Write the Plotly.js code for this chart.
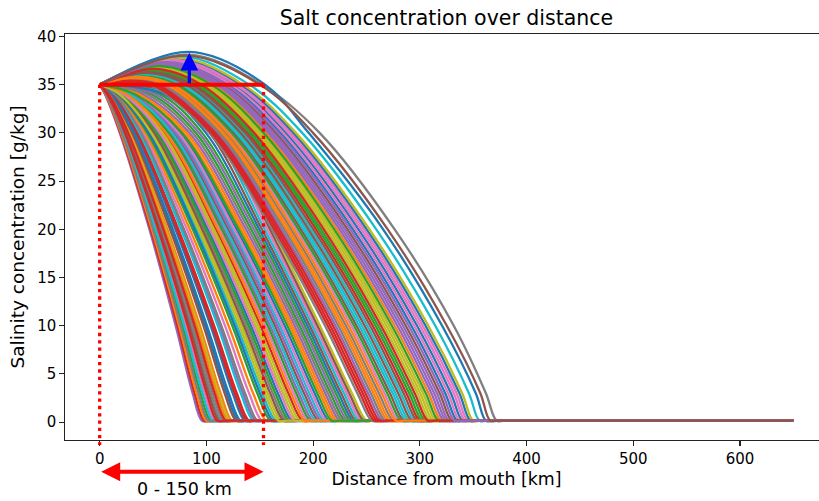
<!DOCTYPE html>
<html><head><meta charset="utf-8">
<script src="https://cdn.plot.ly/plotly-3.0.1.min.js"></script>
<style>html,body{margin:0;padding:0;overflow:hidden;background:#fff}#wrap{width:819px;height:501px;overflow:hidden}#chart{width:833px;height:501px}</style>
</head><body><div id="wrap"><div id="chart"></div></div>
<script>
// ---------------- data ----------------
const mouthSalinity = 35;                    // g/kg at the mouth (x = 0)
const plainLevels = [34, 30, 20, 10, 3, 0.15, 0.15]; // levels crossed by curves without overshoot
const humpLevels = [30, 20, 10, 3, 0.15, 0.15];      // levels crossed after the overshoot
const tailDistance = 650;                    // km, end of every curve
const tailSalinity = 0.15;                   // fresh-water floor
// curves without overshoot: distance [km] where salinity crosses 34, 30, 20, 10, 3, reaches floor, settles
const plainCurves = [
  [21.7, 54.9, 101.4, 141.8, 167.0, 180, 188],
  [9.3, 28.8, 63.4, 93.9, 113.3, 124, 132],
  [56.0, 96.0, 147.0, 192.1, 221.3, 235, 243],
  [12.3, 35.4, 73.7, 107.2, 128.5, 140, 148],
  [5.0, 18.8, 46.6, 71.2, 87.1, 96, 104],
  [28.9, 69.2, 120.3, 164.2, 191.5, 205, 213],
  [14.8, 40.8, 81.7, 117.4, 140.0, 152, 160],
  [7.6, 25.0, 57.2, 85.7, 103.9, 114, 122],
  [80.0, 117.0, 162.0, 206.4, 236.4, 250, 258],
  [17.9, 47.1, 90.7, 128.6, 152.5, 165, 173],
  [10.4, 31.2, 67.2, 98.9, 119.0, 130, 138],
  [33.7, 78.5, 132.2, 178.1, 206.4, 220, 228],
  [6.1, 21.5, 51.2, 77.6, 94.5, 104, 112],
  [24.4, 60.4, 108.8, 150.7, 176.8, 190, 198],
  [13.5, 38.1, 77.6, 112.3, 134.2, 146, 154],
  [64.0, 103.0, 152.0, 196.9, 226.3, 240, 248],
  [6.7, 22.9, 53.6, 80.8, 98.3, 108, 116],
  [20.4, 52.2, 97.8, 137.4, 162.2, 175, 183],
  [8.9, 28.0, 62.1, 92.2, 111.4, 122, 130],
  [30.4, 72.2, 124.2, 168.8, 196.5, 210, 218],
  [11.5, 33.7, 71.0, 103.9, 124.7, 136, 144],
  [15.7, 42.7, 84.4, 120.8, 143.8, 156, 164],
  [48.0, 90.0, 142.0, 187.4, 216.3, 230, 238],
  [5.3, 19.5, 47.7, 72.8, 88.9, 98, 106],
  [27.4, 66.2, 116.4, 159.7, 186.6, 200, 208],
  [10.0, 30.4, 65.9, 97.2, 117.1, 128, 136],
  [72.0, 110.0, 157.0, 201.6, 231.4, 245, 253],
  [7.9, 25.8, 58.4, 87.3, 105.8, 116, 124],
  [23.0, 57.6, 105.1, 146.2, 171.9, 185, 193],
  [13.1, 37.2, 76.3, 110.6, 132.3, 144, 152],
  [32.0, 75.3, 128.2, 173.4, 201.4, 215, 223],
  [5.5, 20.1, 48.9, 74.4, 90.8, 100, 108],
  [16.7, 44.6, 87.2, 124.3, 147.7, 160, 168],
  [11.9, 34.6, 72.4, 105.5, 126.6, 138, 146],
  [40.0, 84.0, 137.0, 182.7, 211.3, 225, 233],
  [7.3, 24.3, 56.0, 84.1, 102.0, 112, 120],
  [25.9, 63.3, 112.6, 155.2, 181.7, 195, 203],
  [14.0, 39.0, 79.0, 114.0, 136.2, 148, 156],
  [19.1, 49.6, 94.2, 133.0, 157.3, 170, 178],
  [6.4, 22.2, 52.4, 79.2, 96.4, 106, 114],
  [10.7, 32.0, 68.5, 100.5, 120.9, 132, 140],
  [8.6, 27.3, 60.9, 90.6, 109.6, 120, 128],
  [26.7, 64.8, 114.5, 157.5, 184.2, 197.5, 205.5],
  [8.3, 26.6, 59.7, 89.0, 107.7, 118, 126],
  [52.0, 93.0, 144.5, 189.8, 218.8, 232.5, 240.5],
  [19.8, 50.9, 96.0, 135.2, 159.8, 172.5, 180.5],
  [31.2, 73.8, 126.2, 171.1, 199.0, 212.5, 220.5],
  [5.8, 20.8, 50.1, 76.0, 92.7, 102, 110],
  [23.7, 59.0, 107.0, 148.5, 174.4, 187.5, 195.5],
  [68.0, 106.5, 154.5, 199.3, 228.9, 242.5, 250.5],
  [17.3, 45.9, 89.0, 126.5, 150.1, 162.5, 170.5],
  [36.9, 81.3, 134.6, 180.4, 208.9, 222.5, 230.5],
  [21.1, 53.6, 99.6, 139.6, 164.6, 177.5, 185.5],
  [7.0, 23.6, 54.8, 82.5, 100.2, 110, 118],
  [29.7, 70.7, 122.3, 166.5, 194.0, 207.5, 215.5],
  [76.0, 113.5, 159.5, 204.0, 233.9, 247.5, 255.5],
  [22.4, 56.3, 103.3, 144.0, 169.5, 182.5, 190.5],
  [44.0, 87.0, 139.5, 185.1, 213.8, 227.5, 235.5],
  [18.5, 48.4, 92.5, 130.8, 154.9, 167.5, 175.5],
  [28.2, 67.7, 118.4, 162.0, 189.1, 202.5, 210.5],
  [60.0, 99.5, 149.5, 194.5, 223.8, 237.5, 245.5],
  [25.2, 61.9, 110.7, 153.0, 179.3, 192.5, 200.5],
  [32.9, 76.9, 130.2, 175.8, 203.9, 217.5, 225.5]
];
// curves with overshoot: [peak distance, peak salinity, distance back at 35,
//   then distances where salinity crosses 30, 20, 10, 3, reaches floor, settles]
const humpCurves = [
  [47.7, 36.43, 88.3, 138.2, 202.7, 255.9, 287.4, 300, 308],
  [30.2, 35.47, 55.9, 110.0, 170.4, 221.0, 251.5, 265, 273],
  [62.7, 37.25, 116.1, 164.8, 232.2, 286.8, 318.6, 330, 338],
  [37.7, 35.88, 69.8, 121.7, 184.0, 235.8, 266.8, 280, 288],
  [25.2, 35.20, 46.7, 102.6, 161.6, 211.2, 241.4, 255, 263],
  [55.2, 36.84, 102.2, 151.2, 217.3, 271.2, 303.0, 315, 323],
  [42.7, 36.16, 79.1, 129.8, 193.2, 245.7, 277.1, 290, 298],
  [67.7, 37.52, 125.4, 174.3, 242.5, 297.4, 329.1, 340, 348],
  [32.7, 35.61, 60.6, 113.9, 174.9, 225.9, 256.6, 270, 278],
  [50.2, 36.57, 92.9, 142.5, 207.5, 261.0, 292.6, 305, 313],
  [27.7, 35.33, 51.3, 106.3, 166.0, 216.1, 246.5, 260, 268],
  [60.2, 37.11, 111.5, 160.2, 227.2, 281.6, 313.4, 325, 333],
  [40.2, 36.02, 74.4, 125.7, 188.6, 240.7, 272.0, 285, 293],
  [70.2, 37.66, 130.0, 179.1, 247.6, 302.7, 334.4, 345, 353],
  [35.2, 35.74, 65.2, 117.8, 179.4, 230.8, 261.7, 275, 283],
  [52.7, 36.70, 97.6, 146.8, 212.4, 266.1, 297.8, 310, 318],
  [45.2, 36.29, 83.7, 134.0, 197.9, 250.8, 282.2, 295, 303],
  [65.2, 37.39, 120.7, 169.5, 237.3, 292.1, 323.8, 335, 343],
  [57.7, 36.98, 106.8, 155.7, 222.2, 276.4, 308.2, 320, 328],
  [39.0, 35.95, 72.1, 123.7, 186.3, 238.3, 269.4, 282.5, 290.5],
  [26.5, 35.27, 49.0, 104.5, 163.8, 213.7, 244.0, 257.5, 265.5],
  [59.0, 37.05, 109.2, 158.0, 224.7, 279.0, 310.8, 322.5, 330.5],
  [46.5, 36.36, 86.0, 136.1, 200.3, 253.4, 284.8, 297.5, 305.5],
  [66.5, 37.46, 123.1, 171.9, 239.9, 294.8, 326.5, 337.5, 345.5],
  [31.5, 35.54, 58.3, 112.0, 172.7, 223.5, 254.1, 267.5, 275.5],
  [54.0, 36.77, 99.9, 149.0, 214.9, 268.7, 300.4, 312.5, 320.5],
  [41.5, 36.09, 76.8, 127.8, 190.9, 243.2, 274.6, 287.5, 295.5],
  [71.5, 37.73, 132.3, 181.5, 250.2, 305.4, 337.1, 347.5, 355.5],
  [34.0, 35.68, 62.9, 115.9, 177.2, 228.4, 259.2, 272.5, 280.5],
  [49.0, 36.50, 90.6, 140.4, 205.1, 258.5, 290.0, 302.5, 310.5],
  [29.0, 35.40, 53.6, 108.2, 168.2, 218.6, 249.0, 262.5, 270.5],
  [61.5, 37.18, 113.8, 162.5, 229.7, 284.2, 316.0, 327.5, 335.5],
  [44.0, 36.23, 81.4, 131.9, 195.6, 248.3, 279.7, 292.5, 300.5],
  [69.0, 37.59, 127.7, 176.7, 245.1, 300.1, 331.8, 342.5, 350.5],
  [82.0, 38.10, 152.0, 206.1, 276.4, 331.8, 361.9, 372, 380],
  [72.7, 37.80, 134.6, 183.9, 252.8, 308.0, 339.7, 350, 358],
  [75.7, 37.96, 140.2, 189.8, 259.2, 314.5, 346.0, 356, 364],
  [83.7, 38.40, 155.0, 195.8, 265.6, 320.9, 352.4, 362, 370],
  [36.5, 35.81, 67.5, 119.8, 181.7, 233.3, 264.3, 277.5, 285.5],
  [56.5, 36.91, 104.5, 153.5, 219.8, 273.8, 305.6, 317.5, 325.5],
  [51.5, 36.64, 95.3, 144.7, 210.0, 263.6, 295.2, 307.5, 315.5],
  [64.0, 37.32, 118.4, 167.2, 234.8, 289.5, 321.2, 332.5, 340.5],
  [80.7, 38.00, 150.0, 199.9, 269.9, 325.3, 356.7, 366, 374]
];
const spanEnd = 153.5;        // km, end of the marked 0 - 150 km stretch
const spanLabel = '0 - 150 km';
const overshootAt = 84;       // km, position of the blue arrow
const overshootTop = 38.3;    // g/kg, tip of the blue arrow

// ---------------- build ----------------
const palette = ['#1f77b4','#ff7f0e','#2ca02c','#d62728','#9467bd','#8c564b','#e377c2','#7f7f7f','#bcbd22','#17becf'];
const xRange = [-32.5, 682.5];
const yRange = [-1.85, 40.25];
const FONT = 'DejaVu Sans, Liberation Sans, sans-serif';

function plainPoints(r) {
  const x = [0], y = [mouthSalinity];
  r.forEach((d, i) => { x.push(d); y.push(plainLevels[i]); });
  x.push(tailDistance); y.push(tailSalinity);
  return {x, y};
}
function humpPoints(r) {
  const x = [0, r[0], r[2]], y = [mouthSalinity, r[1], mouthSalinity];
  r.slice(3).forEach((d, i) => { x.push(d); y.push(humpLevels[i]); });
  x.push(tailDistance); y.push(tailSalinity);
  return {x, y};
}
const curves = plainCurves.map(plainPoints).concat(humpCurves.map(humpPoints));
const traces = curves.map((c, i) => ({
  type: 'scatter', mode: 'lines', x: c.x, y: c.y,
  line: {color: palette[i % 10], width: 2.3, shape: 'spline', smoothing: 1},
  hoverinfo: 'skip', showlegend: false
}));

const paperY = v => (v - yRange[0]) / (yRange[1] - yRange[0]);

const dotted = {color: '#ff0000', width: 3.3, dash: '3.3px,4px'};
const shapes = [
  {type: 'line', xref: 'x', yref: 'paper', x0: 0, x1: 0, y0: paperY(mouthSalinity), y1: -5 / 406, line: dotted, layer: 'above'},
  {type: 'line', xref: 'x', yref: 'paper', x0: spanEnd, x1: spanEnd, y0: paperY(mouthSalinity), y1: -5 / 406, line: dotted, layer: 'above'},
  {type: 'line', xref: 'x', yref: 'y', x0: 0, x1: spanEnd, y0: mouthSalinity, y1: mouthSalinity, line: {color: '#ff0000', width: 4}, layer: 'above'}
];

const annotations = [
  {xref: 'x', yref: 'paper', x: spanEnd, y: -31.7 / 406,
   axref: 'x', ayref: 'pixel', ax: 0, ay: 0,
   text: '', showarrow: true, arrowside: 'end+start', arrowhead: 2, startarrowhead: 2,
   arrowsize: 0.95, startarrowsize: 0.95, arrowwidth: 4, arrowcolor: '#ff0000'},
  {xref: 'x', yref: 'y', x: overshootAt, y: overshootTop,
   axref: 'x', ayref: 'y', ax: overshootAt, ay: mouthSalinity,
   text: '', showarrow: true, arrowhead: 2, arrowsize: 1.07, arrowwidth: 3.3, arrowcolor: '#0000ff'},
  {xref: 'x', yref: 'paper', x: 79.5, y: -49 / 406, text: spanLabel, showarrow: false,
   xanchor: 'center', yanchor: 'middle', font: {family: FONT, size: 17.5, color: '#000'}}
];

const axisCommon = {
  showgrid: false, zeroline: false, showline: true, linecolor: '#222', linewidth: 1.1,
  mirror: true, ticks: 'outside', ticklen: 4.5, tickwidth: 1.1, tickcolor: '#222',
  tickfont: {family: FONT, size: 15, color: '#000'}
};

const layout = {
  width: 833, height: 501,
  margin: {l: 65, r: 5, t: 34, b: 61, pad: 0},
  paper_bgcolor: '#fff', plot_bgcolor: '#fff',
  showlegend: false,
  title: {text: 'Salt concentration over distance', font: {family: FONT, size: 20.5, color: '#000'},
          x: 0.5, xref: 'paper', xanchor: 'center', y: 1 - 18 / 501, yref: 'container', yanchor: 'middle'},
  xaxis: Object.assign({}, axisCommon, {range: xRange, tickvals: [0, 100, 200, 300, 400, 500, 600],
    title: {text: 'Distance from mouth [km]', font: {family: FONT, size: 17.4, color: '#000'}, standoff: 6}}),
  yaxis: Object.assign({}, axisCommon, {range: yRange, tickvals: [0, 5, 10, 15, 20, 25, 30, 35, 40],
    title: {text: 'Salinity concentration [g/kg]', font: {family: FONT, size: 18.5, color: '#000'}, standoff: 7}}),
  shapes, annotations
};

Plotly.newPlot('chart', traces, layout, {displayModeBar: false, staticPlot: true});
</script>
</body></html>
